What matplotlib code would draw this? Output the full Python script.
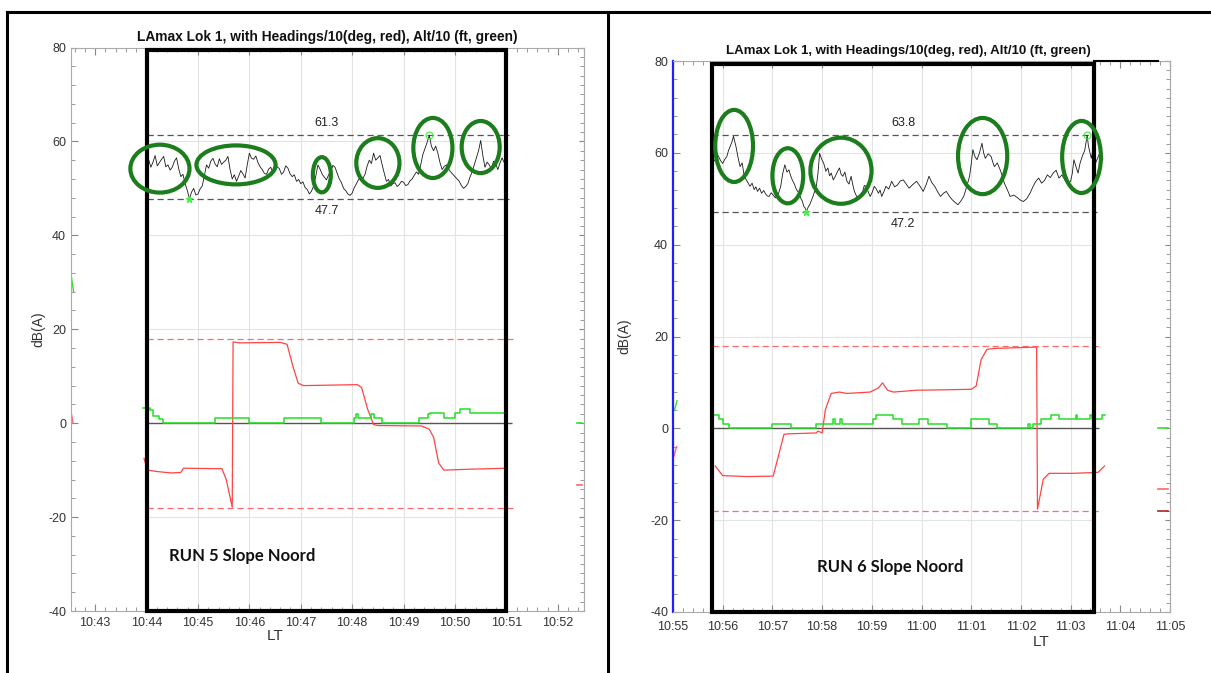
import numpy as np
import matplotlib
matplotlib.use("Agg")
import matplotlib.pyplot as plt
from matplotlib.patches import Ellipse, Rectangle
from matplotlib.lines import Line2D
from matplotlib.ticker import MultipleLocator, FuncFormatter

plt.rcParams['font.family'] = ['Liberation Sans', 'DejaVu Sans']
plt.rcParams['axes.unicode_minus'] = False

TITLE = "LAmax Lok 1, with Headings/10(deg, red), Alt/10 (ft, green)"

# ---------------- RUN 5 (times in seconds after 10:44:00) ----------------
run5_start = 10 * 60 + 44
run5_la_t = np.arange(0, 422.5, 2.5)
run5_la = [55.2, 56.1, 54.5, 55.6, 57.0, 54.8, 55.5, 56.2, 56.8, 54.6, 55.0, 53.9,
           54.5, 55.8, 56.5, 54.2, 52.5, 53.0, 51.0, 49.6, 47.8, 49.2, 50.0, 48.6,
           48.8, 49.9, 50.5, 52.8, 55.0, 54.3, 55.8, 56.4, 55.2, 54.6, 56.3, 55.1,
           55.6, 56.0, 56.8, 54.0, 52.0, 52.9, 51.5, 52.6, 53.8, 53.1, 52.2, 55.0,
           57.5, 56.4, 56.2, 56.9, 55.5, 54.6, 54.0, 53.2, 53.0, 54.1, 54.5, 53.3,
           53.8, 54.6, 54.2, 53.0, 53.5, 54.8, 54.3, 53.1, 52.5, 52.9, 51.5, 51.9,
           51.0, 51.4, 50.2, 49.8, 48.8, 49.4, 50.5, 52.6, 55.0, 54.1, 53.0, 52.4,
           51.8, 52.9, 53.5, 54.9, 54.5, 53.2, 52.0, 51.2, 50.0, 49.5, 48.8, 48.5,
           49.0, 50.2, 51.0, 51.9, 52.5, 52.1, 53.0, 54.8, 56.0, 55.3, 57.5, 56.0,
           56.5, 57.0, 55.0, 53.2, 51.5, 51.9, 50.5, 51.0, 51.2, 50.4, 50.8, 51.5,
           51.3, 50.6, 50.8, 51.6, 52.0, 52.8, 53.5, 53.0, 55.0, 57.2, 58.5, 59.8,
           61.3, 59.0, 58.0, 59.0, 57.5, 55.5, 54.0, 54.7, 55.0, 54.1, 53.5, 53.0,
           52.5, 52.0, 51.5, 50.6, 50.0, 50.4, 51.0, 52.4, 53.5, 55.0, 56.5, 58.0,
           60.2, 57.0, 54.5, 55.6, 55.0, 54.2, 55.8, 55.2, 54.0, 55.4, 56.5, 55.5,
           54.0]
run5_max, run5_min = 61.3, 47.7
run5_max_t, run5_min_t = 330, 50

run5_hdg_t = [-3, 1, 12, 29, 40, 43, 88, 93, 100, 101, 108, 156, 164, 171, 177, 183,
              246, 251, 258, 265, 270, 321, 330, 335, 341, 347, 378, 421]
run5_hdg = [-7.5, -10.0, -10.3, -10.6, -10.5, -9.6, -9.7, -12.0, -17.9, 17.3, 17.1, 17.2,
            16.8, 12.0, 8.5, 8.0, 8.2, 7.6, 3.0, -0.3, -0.5, -0.6, -1.3, -3.0, -8.5,
            -10.0, -9.8, -9.6]

run5_alt_t = [-4, 4, 8, 15, 19, 80, 120, 160, 204, 242, 245, 247, 262, 265, 275,
              318, 328, 331, 347, 360, 366, 377, 420]
run5_alt = [3.3, 2.8, 1.5, 0.8, 0, 1.1, 0, 1.1, 0, 1.1, 2.0, 1.1, 2.0, 1.1, 0,
            1.1, 2.0, 2.2, 1.1, 2.2, 3.0, 2.2, 2.2]

# ---------------- RUN 6 (times in seconds after 10:55:00) ----------------
run6_start = 10 * 60 + 55
run6_la_t = [48, 49.5, 51, 53, 55, 57.5, 60, 62.5, 65, 67, 69, 71, 73, 74.5, 76, 78.5,
             81, 83.5, 86, 89.5, 93, 95.5, 98, 100, 102, 104.5, 107, 109.5, 112, 114,
             116, 118.5, 121, 123.5, 126, 128, 130, 132.5, 135, 137.5, 140, 142, 144,
             146.5, 149, 151.5, 154, 156, 158, 159.5, 161, 163, 165, 169, 173, 175, 177,
             179.5, 182, 184.5, 187, 189, 191, 193.5, 196, 198.5, 201, 203, 205, 207.5,
             210, 212.5, 215, 217, 219, 221.5, 224, 226.5, 229, 231, 233, 235.5, 238,
             240.5, 243, 245.5, 248, 250, 252, 254.5, 257, 260.5, 264, 267.5, 271,
             274.5, 278, 281.5, 285, 289.5, 294, 298, 302, 305.5, 309, 312.5, 316,
             319.5, 323, 326.5, 330, 333.5, 337, 340.5, 344, 347.5, 351, 354.5, 358,
             360, 362, 364.5, 367, 370, 373, 375, 377, 380.5, 384, 386, 388, 391.5, 395,
             397.5, 400, 403.5, 407, 411.5, 416, 419.5, 423, 427, 431, 434.5, 438,
             441.5, 445, 448.5, 452, 455.5, 459, 462.5, 466, 469.5, 473, 476.5, 480,
             482, 484, 486.5, 489, 491.5, 494, 497, 500, 501.5, 503, 505, 507, 508.5,
             510, 512.5, 515, 517, 519]
run6_la = [59.9, 58.2, 58.5, 60.0, 59.2, 58.3, 57.7, 58.6, 59.2, 60.5, 61.4, 62.3, 63.6,
           62.5, 61.4, 59.0, 57.0, 57.8, 54.9, 53.8, 52.7, 53.4, 52.0, 52.6, 51.6, 52.3,
           51.2, 51.8, 51.0, 50.6, 50.5, 51.3, 50.8, 50.2, 50.5, 51.5, 52.7, 55.5, 57.4,
           55.8, 56.3, 55.0, 54.1, 53.2, 52.0, 51.4, 50.2, 49.5, 48.3, 48.0, 47.2, 48.1,
           48.7, 50.5, 52.7, 55.5, 59.9, 58.6, 57.7, 56.0, 56.7, 55.0, 55.6, 54.1, 54.9,
           55.9, 56.7, 55.3, 54.9, 55.8, 53.8, 53.2, 54.9, 53.1, 51.6, 50.6, 49.8, 50.9,
           51.6, 52.9, 52.7, 51.6, 50.5, 51.4, 52.7, 52.1, 51.2, 51.9, 50.5, 51.5, 52.7,
           52.1, 53.8, 52.6, 53.0, 53.9, 54.1, 53.2, 52.3, 53.1, 53.8, 52.8, 51.6, 53.0,
           54.9, 53.5, 52.7, 51.5, 50.5, 51.2, 51.6, 50.6, 49.8, 49.2, 48.7, 49.5, 50.5,
           52.6, 54.9, 57.5, 60.7, 59.2, 58.5, 60.0, 62.1, 60.0, 58.8, 59.8, 59.2, 58.0,
           57.0, 57.8, 56.3, 55.0, 53.4, 52.0, 50.5, 50.8, 50.2, 49.7, 49.4, 50.0, 51.2,
           52.6, 53.8, 54.5, 53.4, 54.0, 55.2, 54.6, 55.6, 56.2, 54.5, 55.2, 54.1, 53.3,
           53.8, 55.5, 58.5, 57.0, 55.6, 57.8, 59.2, 60.5, 63.8, 61.5, 60.3, 58.8, 60.7,
           59.0, 57.7, 58.8, 59.9, 58.0, 58.8]
run6_max, run6_min = 63.8, 47.2
run6_max_t, run6_min_t = 500, 161

run6_hdg_t = [51, 60, 90, 121, 128, 134, 140, 173, 175, 180, 184, 191, 201, 210, 238, 248,
              253, 259, 266, 294, 330, 360, 366, 372, 379, 388, 439, 440, 447, 454, 482,
              513, 521]
run6_hdg = [-8.2, -10.3, -10.5, -10.4, -5.5, -1.3, -1.2, -1.0, -0.6, -1.0, 4.1, 7.6, 7.9,
            7.6, 7.9, 8.8, 9.9, 8.3, 7.9, 8.3, 8.4, 8.5, 9.2, 15.0, 17.2, 17.4, 17.7,
            -17.6, -11.1, -9.8, -9.8, -9.6, -8.2]

run6_alt_t = [48, 55, 60, 68, 119, 142, 173, 193, 195, 202, 204, 241, 245, 266, 276, 297,
              308, 331, 360, 381, 391, 428, 431, 435, 444, 456, 466, 486, 488, 504, 506,
              518, 521]
run6_alt = [3, 2, 1, 0, 1, 0, 1, 2, 1, 2, 1, 2, 3, 2, 1, 2, 1, 0, 2, 1, 0, 1, 0, 1, 2, 3,
            2, 3, 2, 3, 2, 3, 3]

# annotation ellipses: (centre min-of-day, centre dB, width min, height dB)
run5_circles = [(644.26, 54.2, 1.15, 10.2), (645.74, 55.0, 1.54, 8.3),
                (647.41, 52.9, 0.35, 7.5), (648.50, 55.4, 0.84, 10.6),
                (649.57, 58.6, 0.76, 12.8), (650.50, 58.8, 0.74, 11.1)]
run6_circles = [(656.23, 61.5, 0.76, 15.7), (657.31, 55.0, 0.62, 12.0),
                (658.38, 56.1, 1.23, 14.4), (661.23, 59.3, 0.99, 16.6),
                (663.22, 59.1, 0.78, 15.7)]


def hhmm(m, pos=None):
    m = int(round(m))
    return "%d:%02d" % (m // 60, m % 60)


def panel(ax, start, xlim, box, la_t, la, hdg_t, hdg, alt_t, alt, mx, mn, mx_t, mn_t,
          circles, run_text, run_xy, lt_xy, title_x, title_fs, ylab_x, xpad):
    t0, t1 = box
    tm = lambda s: start + np.asarray(s) / 60.0
    ax.set_xlim(*xlim)
    ax.set_ylim(-40, 80)

    # grid only inside the run window
    for m in range(int(np.ceil(t0)), int(t1) + 1):
        ax.plot([m, m], [-40, 80], color='#e3e3e3', lw=0.8, zorder=0)
    ax.hlines([60, 40, 20, -20], t0, t1, color='#e3e3e3', lw=0.8, zorder=0)
    ax.hlines(0, t0, t1 + 0.1, color='#555555', lw=1.0, zorder=1)

    ax.hlines([mx, mn], t0, t1 + 0.05, color='#555555', lw=0.9, ls=(0, (5, 3)), zorder=2)
    ax.hlines([18, -18], t0, t1 + 0.12, color='#ff6b6b', lw=0.9, ls=(0, (5, 3)), zorder=2)
    mid = (t0 + t1) / 2
    ax.text(mid, mx + 1.3, "%.1f" % mx, ha='center', va='bottom', fontsize=9, color='#222222')
    ax.text(mid, mn - 1.3, "%.1f" % mn, ha='center', va='top', fontsize=9, color='#222222')

    ax.plot(tm(la_t), la, color='#1a1a1a', lw=0.6, zorder=3)
    ax.plot(tm(hdg_t), hdg, color='#ff4444', lw=0.9, zorder=3)
    ax.plot(tm(alt_t), alt, color='#22e022', lw=1.1, drawstyle='steps-post', zorder=3)
    ax.plot(tm([mx_t]), [mx], 'o', mfc='none', mec='#44ee44', ms=5, mew=0.8, zorder=4)
    ax.plot(tm([mn_t]), [mn], '*', color='#44ee44', ms=5, zorder=4)

    for cx, cy, w, h in circles:
        ax.add_patch(Ellipse((cx, cy), w, h, fill=False, ec='#1c7d1c', lw=3,
                             zorder=6, clip_on=False))
    ax.add_patch(Rectangle((t0, -40), t1 - t0, 119.4, fill=False, ec='black', lw=3,
                           zorder=5, clip_on=False))

    ax.text(run_xy[0], run_xy[1], run_text, ha='center', va='center', fontsize=12,
            fontweight='bold', family=['Lato', 'DejaVu Sans'], color='#111111')

    ax.xaxis.set_major_locator(MultipleLocator(1))
    ax.xaxis.set_minor_locator(MultipleLocator(0.2))
    ax.xaxis.set_major_formatter(FuncFormatter(hhmm))
    ax.yaxis.set_major_locator(MultipleLocator(20))
    ax.yaxis.set_minor_locator(MultipleLocator(4))
    ax.tick_params(which='both', direction='in', top=True, right=False,
                   colors='#888888', labelcolor='#333333', labelsize=9)
    ax.tick_params(axis='x', pad=xpad)
    ax.tick_params(which='major', length=5)
    ax.tick_params(which='minor', length=3)
    sec = ax.secondary_yaxis('right')
    sec.yaxis.set_major_locator(MultipleLocator(20))
    sec.yaxis.set_minor_locator(MultipleLocator(2))
    sec.tick_params(which='both', direction='in', labelright=False, colors='#888888')
    sec.tick_params(which='minor', length=3)
    sec.spines['right'].set_color('#aaaaaa')
    for s in ax.spines.values():
        s.set_color('#aaaaaa')
        s.set_linewidth(0.8)

    ax.text(title_x, 1.019, TITLE, transform=ax.transAxes, ha='center', va='center',
            fontsize=title_fs, fontweight='bold', color='#111111')
    ax.text(ylab_x, 0.5, "dB(A)", transform=ax.transAxes, rotation=90, ha='center',
            va='center', fontsize=10, color='#333333')
    ax.text(lt_xy[0], lt_xy[1], "LT", transform=ax.transAxes, ha='center', va='center',
            fontsize=11, color='#333333')


fig = plt.figure(figsize=(12.11, 6.73), dpi=100)

ax1 = fig.add_axes([71 / 1211, 1 - 611 / 673, 513 / 1211, 563.5 / 673])
panel(ax1, run5_start, (642.53, 652.51), (644.0, 651.0), run5_la_t, run5_la,
      run5_hdg_t, run5_hdg, run5_alt_t, run5_alt, run5_max, run5_min,
      run5_max_t, run5_min_t, run5_circles, "RUN 5 Slope Noord", (645.87, -28.2),
      (0.398, -0.045), 0.499, 9.9, -0.064, 4.5)
# stray bits at the plot edges
ax1.plot([642.54, 642.56, 642.58], [31, 29.5, 28], color='#33dd33', lw=1)
ax1.plot([642.53, 642.57], [2.5, 0.0], color='#ff6666', lw=1)
ax1.plot([652.38, 652.48], [0, 0], color='#33dd33', lw=1.2)
ax1.plot([652.38, 652.48], [-13.2, -13.2], color='#ff6666', lw=1.2)

ax2 = fig.add_axes([673 / 1211, 1 - 612 / 673, 497 / 1211, 551 / 673])
panel(ax2, run6_start, (655.0, 665.0), (655.78, 663.48), run6_la_t, run6_la,
      run6_hdg_t, run6_hdg, run6_alt_t, run6_alt, run6_max, run6_min,
      run6_max_t, run6_min_t, run6_circles, "RUN 6 Slope Noord", (659.38, -30.3),
      (0.740, -0.054), 0.473, 9.5, -0.097, 6.5)
ax2.spines['left'].set_color('#2020ff')
ax2.spines['left'].set_linewidth(1.6)
ax2.plot([663.48, 664.75], [80, 80], color='black', lw=1.5, clip_on=False, zorder=5)
ax2.plot([655.03, 655.08], [4, 6], color='#33dd33', lw=1)
ax2.plot([655.02, 655.07], [-6, -4], color='#ff6666', lw=1)
ax2.plot([664.75, 664.95], [0, 0], color='#33dd33', lw=1.2)
ax2.plot([664.75, 664.95], [-13.3, -13.3], color='#ff6666', lw=1.2)
ax2.plot([664.75, 664.95], [-18, -18], color='#aa2222', lw=1.2)

# outer table frame
fig.add_artist(Line2D([7 / 1211, 1.0], [1 - 12 / 673] * 2, color='black', lw=2.2))
fig.add_artist(Line2D([7 / 1211] * 2, [0, 1 - 12 / 673], color='black', lw=2.2))
fig.add_artist(Line2D([608 / 1211] * 2, [0, 1 - 12 / 673], color='black', lw=2.2))

fig.savefig("out.png", dpi=100)
